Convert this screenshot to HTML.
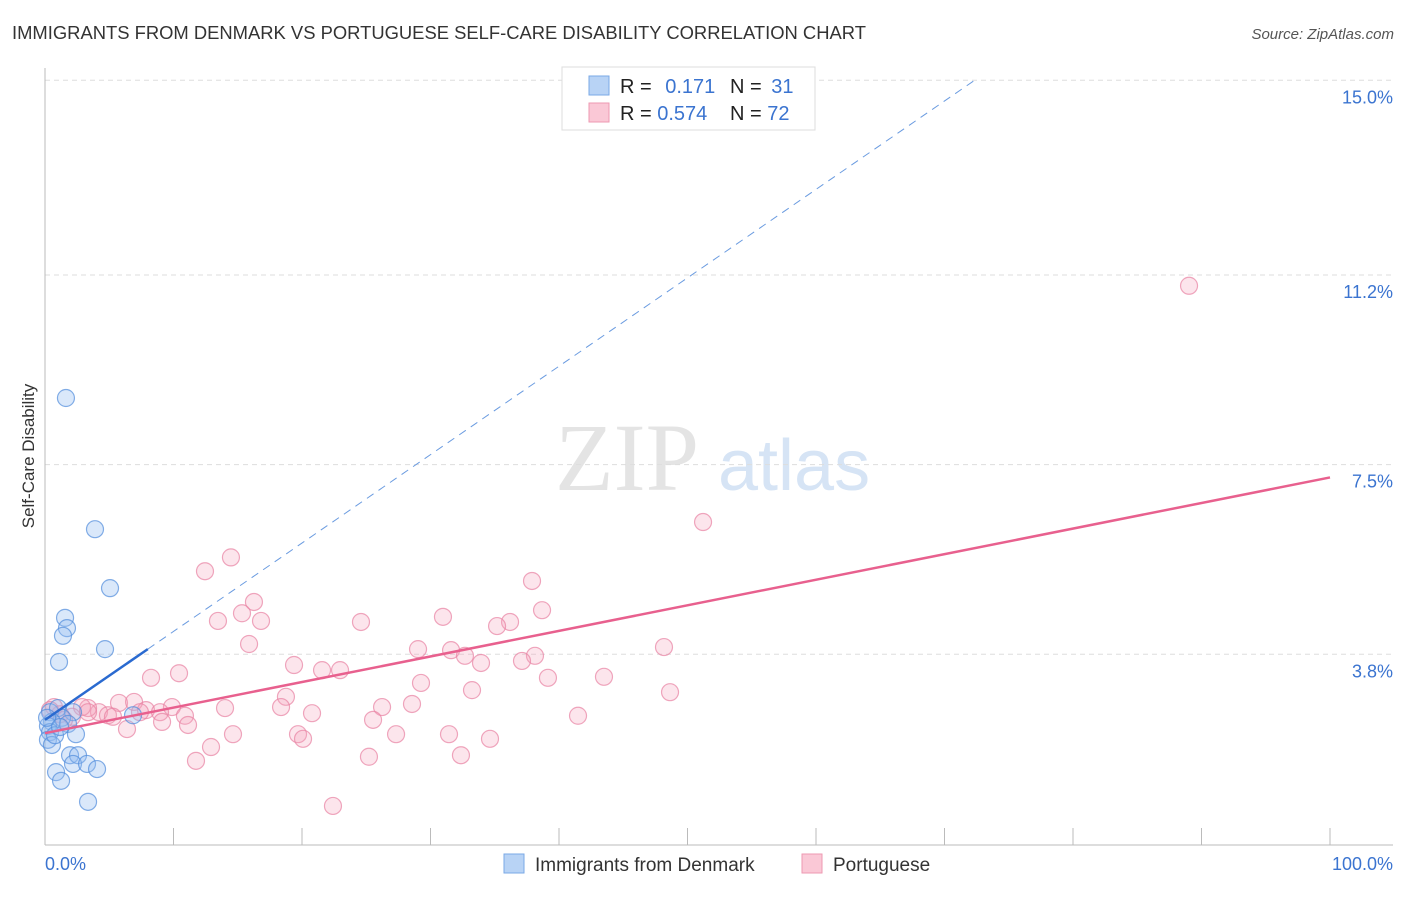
<!DOCTYPE html>
<html><head><meta charset="utf-8"><style>
body{margin:0;background:#fff;}
svg text{font-family:"Liberation Sans",sans-serif;}
</style></head><body>
<svg id="chart" width="1406" height="892" xmlns="http://www.w3.org/2000/svg">
<text x="12" y="39" font-size="18.4" fill="#333">IMMIGRANTS FROM DENMARK VS PORTUGUESE SELF-CARE DISABILITY CORRELATION CHART</text>
<text x="1394" y="39" font-size="15" fill="#555" font-style="italic" text-anchor="end">Source: ZipAtlas.com</text>
<text x="555" y="490" font-size="96" fill="#e4e4e4" style="font-family:'Liberation Serif',serif">ZIP</text>
<text x="718" y="490" font-size="72" fill="#d6e4f5">atlas</text>
<text transform="translate(34,456) rotate(-90)" font-size="17" fill="#333" text-anchor="middle">Self-Care Disability</text>
<g id="grid"></g><g id="axes"></g><g id="pts"></g><g id="trend"></g>
<g>
<rect x="562" y="67" width="253" height="63" fill="#fff" stroke="#ddd"/>
<rect x="589" y="76" width="20" height="19" fill="#b8d3f5" stroke="#7aa8e6"/>
<rect x="589" y="103" width="20" height="19" fill="#fac8d6" stroke="#ee99b2"/>
<text x="620" y="93" font-size="20" fill="#222">R = <tspan fill="#3b74d0" dx="8">0.171</tspan></text>
<text x="730" y="93" font-size="20" fill="#222">N = <tspan fill="#3b74d0" dx="4">31</tspan></text>
<text x="620" y="120" font-size="20" fill="#222">R = <tspan fill="#3b74d0">0.574</tspan></text>
<text x="730" y="120" font-size="20" fill="#222">N = <tspan fill="#3b74d0">72</tspan></text>
</g>
<g>
<rect x="504" y="854" width="20" height="19" fill="#b8d3f5" stroke="#7aa8e6"/>
<text x="535" y="871" font-size="19" fill="#333">Immigrants from Denmark</text>
<rect x="802" y="854" width="20" height="19" fill="#fac8d6" stroke="#ee99b2"/>
<text x="833" y="871" font-size="19" fill="#333">Portuguese</text>
</g>
</svg>
<script>
const blueX=[1.63,3.89,5.06,1.56,1.71,1.40,4.67,1.09,0.39,1.01,2.18,1.32,0.54,0.23,1.79,2.41,0.39,0.23,0.54,6.85,1.95,2.57,2.18,3.27,4.05,0.86,1.25,3.35,0.78,0.16,1.17];
const blueY=[8.80,6.24,5.09,4.51,4.31,4.16,3.90,3.65,2.67,2.75,2.67,2.56,2.48,2.40,2.44,2.24,2.28,2.13,2.03,2.61,1.83,1.83,1.66,1.66,1.56,1.50,1.33,0.92,2.22,2.56,2.38];
const pinkX=[89.03,51.21,14.47,12.45,37.90,16.26,15.33,38.68,13.46,16.81,24.59,30.97,36.19,35.18,15.88,48.17,29.03,31.60,32.68,38.13,37.12,19.38,21.56,22.96,33.93,10.43,8.25,29.26,39.14,43.50,33.23,48.64,18.75,26.23,28.56,14.01,18.37,9.88,20.78,41.48,5.76,6.93,7.86,8.95,10.89,11.13,9.11,6.38,4.20,4.90,5.29,3.35,2.88,2.10,0.70,1.17,1.48,25.53,14.63,19.69,20.08,27.32,31.44,34.63,12.92,32.37,25.21,11.75,22.41,3.35,7.39,0.39];
const pinkY=[10.99,6.38,5.69,5.42,5.23,4.82,4.60,4.66,4.45,4.45,4.43,4.53,4.43,4.35,4.00,3.94,3.90,3.88,3.77,3.77,3.67,3.59,3.49,3.49,3.63,3.43,3.34,3.24,3.34,3.36,3.10,3.06,2.97,2.77,2.83,2.75,2.77,2.77,2.65,2.60,2.85,2.87,2.71,2.67,2.60,2.42,2.48,2.34,2.67,2.61,2.58,2.75,2.77,2.58,2.77,2.63,2.52,2.52,2.24,2.24,2.15,2.24,2.24,2.15,1.99,1.83,1.80,1.72,0.84,2.67,2.67,2.71];
const yTicks=[15.0,11.2,7.5,3.8];
const yTickLabels=["15.0%","11.2%","7.5%","3.8%"];
const xTickVals=[0,10,20,30,40,50,60,70,80,90,100];
const blueTrend=[2.52,0.1725,8];
const pinkTrend=[2.26,0.0499];
const X=v=>45+v*12.85, Y=v=>849-v*51.25;
const NS="http://www.w3.org/2000/svg";
function mk(parent,tag,attrs){const e=document.createElementNS(NS,tag);for(const k in attrs)e.setAttribute(k,attrs[k]);document.getElementById(parent).appendChild(e);return e;}
yTicks.forEach((t,i)=>{
 const l=mk('grid','line',{x1:45,x2:1393,y1:Y(t),y2:Y(t),stroke:'#ddd','stroke-dasharray':'5,4'});
 
 
 const tx=mk('grid','text',{x:1393,y:Y(t)+23,'font-size':18,fill:'#3b74d0','text-anchor':'end'});
 tx.textContent=yTickLabels[i];
 
 
});
let a=mk('axes','line',{x1:45,x2:45,y1:68,y2:845,stroke:'#bbb'});


a=mk('axes','line',{x1:45,x2:1393,y1:845,y2:845,stroke:'#bbb'});


xTickVals.forEach(v=>{const t=mk('axes','line',{x1:X(v),x2:X(v),y1:828,y2:845,stroke:'#bbb'});
 
 });
let xl=mk('axes','text',{x:45,y:870,'font-size':18,fill:'#3b74d0'});xl.textContent='0.0%';


xl=mk('axes','text',{x:1393,y:870,'font-size':18,fill:'#3b74d0','text-anchor':'end'});xl.textContent='100.0%';


pinkX.forEach((x,i)=>{const c=mk('pts','circle',{cx:X(x),cy:Y(pinkY[i]),r:8.5,fill:'rgba(244,160,186,0.28)',stroke:'rgba(232,130,162,0.7)','stroke-width':1.2});
 
 });
blueX.forEach((x,i)=>{const c=mk('pts','circle',{cx:X(x),cy:Y(blueY[i]),r:8.5,fill:'rgba(150,190,240,0.35)',stroke:'rgba(80,140,220,0.7)','stroke-width':1.2});
 
 });
let t=mk('trend','line',{x1:X(0),y1:Y(pinkTrend[0]),x2:X(100),y2:Y(pinkTrend[0]+pinkTrend[1]*100),stroke:'#e8608e','stroke-width':2.5});


const xe=(15-blueTrend[0])/blueTrend[1];
t=mk('trend','line',{x1:X(blueTrend[2]),y1:Y(blueTrend[0]+blueTrend[1]*blueTrend[2]),x2:X(xe),y2:Y(15),stroke:'#6a9be0','stroke-width':1,'stroke-dasharray':'8,6'});


t=mk('trend','line',{x1:X(0),y1:Y(blueTrend[0]),x2:X(blueTrend[2]),y2:Y(blueTrend[0]+blueTrend[1]*blueTrend[2]),stroke:'#2a6ad0','stroke-width':2.5});


</script>
</body></html>
